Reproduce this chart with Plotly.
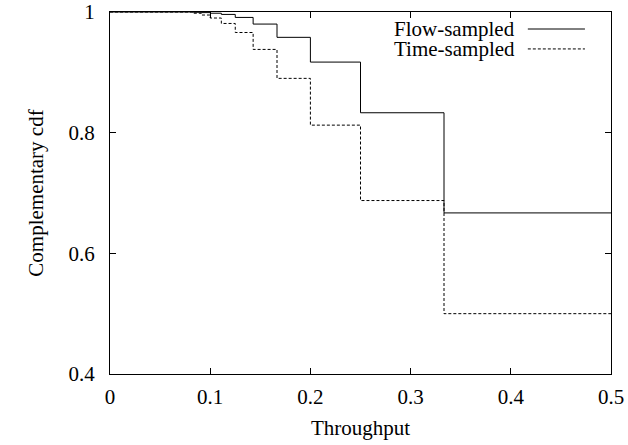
import plotly.graph_objects as go

# step start points (throughput), value holds until the next point
x_steps = [0, 1/12, 1/11, 1/10, 1/9, 1/8, 1/7, 1/6, 1/5, 1/4, 1/3, 0.5]
flow_sampled = [1.0, 0.9995, 0.999, 0.998, 0.996, 0.991, 0.98, 0.958, 0.917, 0.833, 0.667, 0.667]
time_sampled = [1.0, 0.998, 0.995, 0.99, 0.981, 0.966, 0.938, 0.89, 0.8125, 0.6875, 0.5, 0.5]

x_ticks = [0, 0.1, 0.2, 0.3, 0.4, 0.5]
x_labels = ["0", "0.1", "0.2", "0.3", "0.4", "0.5"]
y_ticks = [0.4, 0.6, 0.8, 1.0]
y_labels = ["0.4", "0.6", "0.8", "1"]
series_names = ["Flow-sampled", "Time-sampled"]

FONT = "Liberation Serif"
FS = 21

fig = go.Figure()
fig.add_trace(go.Scatter(x=x_steps, y=flow_sampled, mode="lines", line_shape="hv",
                         line=dict(color="black", width=1), name=series_names[0], showlegend=False))
fig.add_trace(go.Scatter(x=x_steps, y=time_sampled, mode="lines", line_shape="hv",
                         line=dict(color="black", width=1, dash="3px,2px"), name=series_names[1], showlegend=False))

# gnuplot-style legend: text right-aligned, sample line to the right
leg_y = [0.953, 0.898]
for name, yy, dash in zip(series_names, leg_y, ["solid", "3px,2px"]):
    fig.add_annotation(xref="paper", yref="paper", x=0.808, y=yy, text=name, showarrow=False,
                       xanchor="right", yanchor="middle", xshift=2,
                       font=dict(family=FONT, size=FS, color="black"))
    fig.add_shape(type="line", xref="paper", yref="paper", x0=0.834, x1=0.948, y0=yy, y1=yy,
                  line=dict(color="black", width=1, dash=dash))

axis_common = dict(showgrid=False, zeroline=False, showline=True, linecolor="black", linewidth=1,
                   mirror="ticks", ticks="inside", ticklen=6, tickcolor="black", tickwidth=1,
                   tickfont=dict(family=FONT, size=FS, color="black"), automargin=False)

fig.update_xaxes(range=[0, 0.5], tickvals=x_ticks, ticktext=x_labels, ticklabelstandoff=4,
                 title=dict(text="Throughput", font=dict(family=FONT, size=FS, color="black"), standoff=12),
                 **axis_common)
fig.update_yaxes(range=[0.4, 1.0], tickvals=y_ticks, ticktext=y_labels, ticklabelstandoff=10,
                 title=dict(text="Complementary cdf", font=dict(family=FONT, size=FS, color="black"), standoff=19),
                 **axis_common)

fig.update_layout(width=628, height=445, margin=dict(l=110, r=17, t=12, b=71),
                  plot_bgcolor="white", paper_bgcolor="white")

fig.write_html("out.html", config={"displayModeBar": False},
               post_script="document.body.style.margin='0';document.body.style.overflow='hidden';")
